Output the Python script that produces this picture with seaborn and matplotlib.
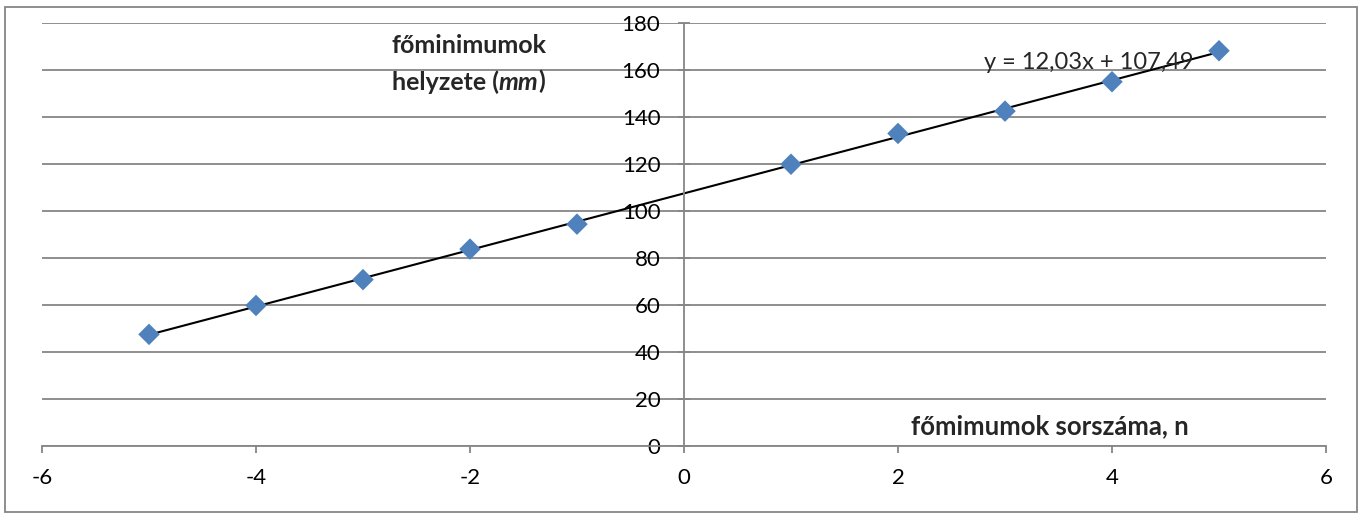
import numpy as np
import matplotlib
matplotlib.use("Agg")
import matplotlib.pyplot as plt
import matplotlib.patches as mpatches
import seaborn as sns
import pandas as pd

order = [-5, -4, -3, -2, -1, 1, 2, 3, 4, 5]
position_mm = [47.5, 59.8, 70.8, 83.8, 94.4, 119.9, 133.0, 142.5, 155.0, 168.2]

x_ticks = [-6, -4, -2, 0, 2, 4, 6]
y_ticks = [0, 20, 40, 60, 80, 100, 120, 140, 160, 180]

df = pd.DataFrame({"n": order, "pos": position_mm})

sns.set_theme(style="white")
plt.rcParams["font.family"] = ["Lato", "DejaVu Sans"]
plt.rcParams["axes.unicode_minus"] = False

fig = plt.figure(figsize=(13.6, 5.15), dpi=100)
ax = fig.add_axes([42 / 1360, 69 / 515, (1326 - 42) / 1360, (446 - 23) / 515])

grid_col = "#868686"
ax.set_xlim(-6, 6)
ax.set_ylim(0, 180)
ax.set_xticks(x_ticks)
ax.set_yticks(y_ticks)
ax.yaxis.grid(True, color=grid_col, linewidth=1.3)
ax.xaxis.grid(False)
ax.set_axisbelow(True)

for side in ["top", "right"]:
    ax.spines[side].set_visible(False)
ax.spines["left"].set_position(("data", 0))
ax.spines["left"].set_color(grid_col)
ax.spines["bottom"].set_color(grid_col)
ax.spines["left"].set_linewidth(1.3)
ax.spines["bottom"].set_linewidth(1.3)

ax.tick_params(axis="y", direction="inout", length=8, width=1.3, color=grid_col,
               labelsize=16, pad=13, labelcolor="black")
ax.tick_params(axis="x", direction="out", length=5, width=1.3, color=grid_col,
               labelsize=16, pad=11, labelcolor="black")
ax.tick_params(axis="both", left=True, bottom=True)

# trendline + points
sns.regplot(data=df, x="n", y="pos", scatter=False, ci=None, truncate=True,
            color="black", line_kws={"linewidth": 1.5}, ax=ax)
sns.scatterplot(data=df, x="n", y="pos", marker="D", s=120, color="#4F81BD",
                edgecolor="none", ax=ax, zorder=3)
ax.set_xlabel("")
ax.set_ylabel("")

slope, intercept = np.polyfit(df["n"], df["pos"], 1)
eq = "y = {:.2f}x + {:.2f}".format(slope, intercept).replace(".", ",")
ax.text(2.8, 163.3, eq, fontsize=17, ha="left", va="center", zorder=4)

# axis titles placed inside the plot like the original
ax.text(-2.73, 170.3, "főminimumok", fontsize=18, fontweight="bold",
        ha="left", va="center")
t1 = ax.text(-2.73, 155, "helyzete (", fontsize=18, fontweight="bold",
             ha="left", va="center")
t2 = ax.annotate("mm", xy=(1, 0), xycoords=t1, fontsize=18, fontweight="bold",
                 fontstyle="italic", ha="left", va="bottom")
ax.annotate(")", xy=(1, 0), xycoords=t2, fontsize=18, fontweight="bold",
            ha="left", va="bottom")
ax.text(2.12, 8.5, "főmimumok sorszáma, n", fontsize=18.5, fontweight="bold",
        ha="left", va="center")

# outer chart border
fig.patches.append(mpatches.Rectangle((5 / 1360, 3 / 515), 1352 / 1360, 505 / 515,
                                      transform=fig.transFigure, fill=False,
                                      edgecolor=grid_col, linewidth=1.3))

fig.savefig("out.png", dpi=100)
